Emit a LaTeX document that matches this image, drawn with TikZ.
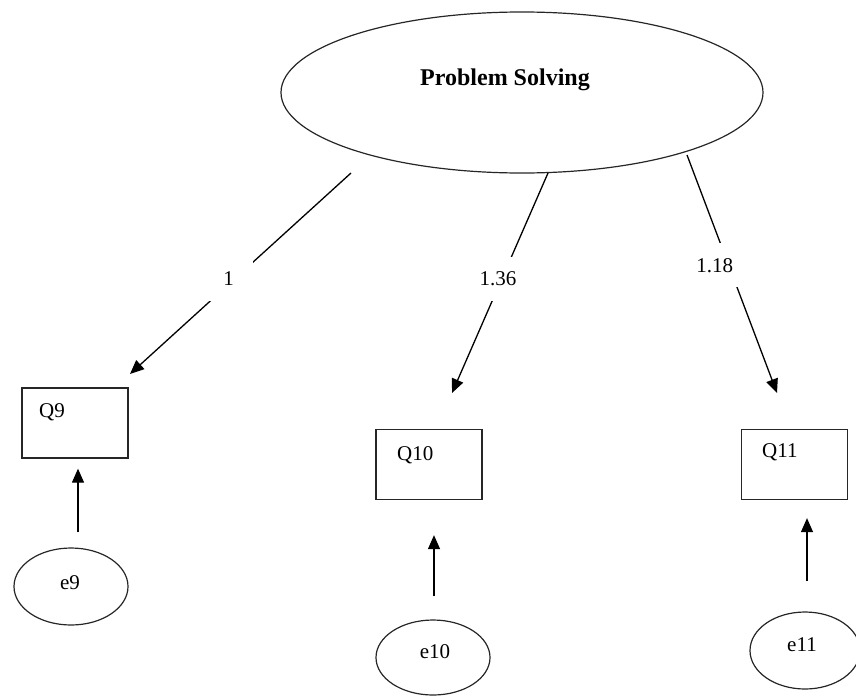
\documentclass[tikz,border=0pt]{standalone}
\usepackage{fontspec}
\setmainfont{Liberation Serif}
\usetikzlibrary{arrows.meta,shapes.geometric}
\begin{document}
\begin{tikzpicture}[x=1pt,y=-1pt,
  latent/.style={draw=black!85,line width=1.2pt,ellipse,inner sep=0pt},
  obsbox/.style={draw=black!85,line width=1.3pt,rectangle,inner sep=0pt,minimum width=106pt,minimum height=70pt},
  txt/.style={inner sep=0pt,font=\fontsize{21}{24}\selectfont},
  lbl/.style={fill=white,inner sep=0pt,minimum width=48pt,minimum height=44pt,font=\fontsize{21}{24}\selectfont},
  arr/.style={line width=1.3pt,-{Triangle[length=14pt,width=12pt]}}]
\useasboundingbox (0,0) rectangle (856,696);
% latent factor
\node[latent,minimum width=482pt,minimum height=161pt] (ps) at (522,92.5) {};
\node[inner sep=0pt,font=\fontsize{24}{28}\selectfont\bfseries] (pst) at (505,80) {Problem Solving};
% observed
\node[obsbox] (q9) at (75,423) {};
\node[obsbox] (q10) at (429,464.5) {};
\node[obsbox] (q11) at (794.5,464.5) {};
\node[txt,anchor=base west] (q9t) at (39,417) {Q9};
\node[txt,anchor=base west] (q10t) at (397,460) {Q10};
\node[txt,anchor=base west] (q11t) at (762,457) {Q11};
% errors
\node[latent,minimum width=114pt,minimum height=77pt] (e9) at (71,586.5) {};
\node[latent,minimum width=114pt,minimum height=75pt] (e10) at (433,657.5) {};
\node[latent,minimum width=110pt,minimum height=77pt] (e11) at (805,650.5) {};
\node[txt] (e9t) at (70,583) {e9};
\node[txt] (e10t) at (435,652) {e10};
\node[txt] (e11t) at (802,645) {e11};
% loading connectors
\coordinate (s1) at (351,173);
\coordinate (t1) at (130,374);
\coordinate (s2) at (548,173);
\coordinate (t2) at (452,393);
\coordinate (s3) at (687,155);
\coordinate (t3) at (777,393);
\draw[arr] (s1) -- node[lbl,pos=0.527,xshift=-6pt] (l1) {1} (t1);
\draw[arr] (s2) -- node[lbl,pos=0.48,xshift=-4pt] (l2) {1.36} (t2);
\draw[arr] (s3) -- node[lbl,pos=0.464,xshift=-14pt] (l3) {1.18} (t3);
% error connectors
\draw[arr,shorten <=15pt,shorten >=10pt] ([xshift=7pt]e9.north) -- ([xshift=3pt]q9.south);
\draw[arr,shorten <=23pt,shorten >=35pt] ([xshift=1pt]e10.north) -- ([xshift=5pt]q10.south);
\draw[arr,shorten <=30pt,shorten >=18pt] ([xshift=2pt]e11.north) -- ([xshift=12.5pt]q11.south);
\end{tikzpicture}
\end{document}
